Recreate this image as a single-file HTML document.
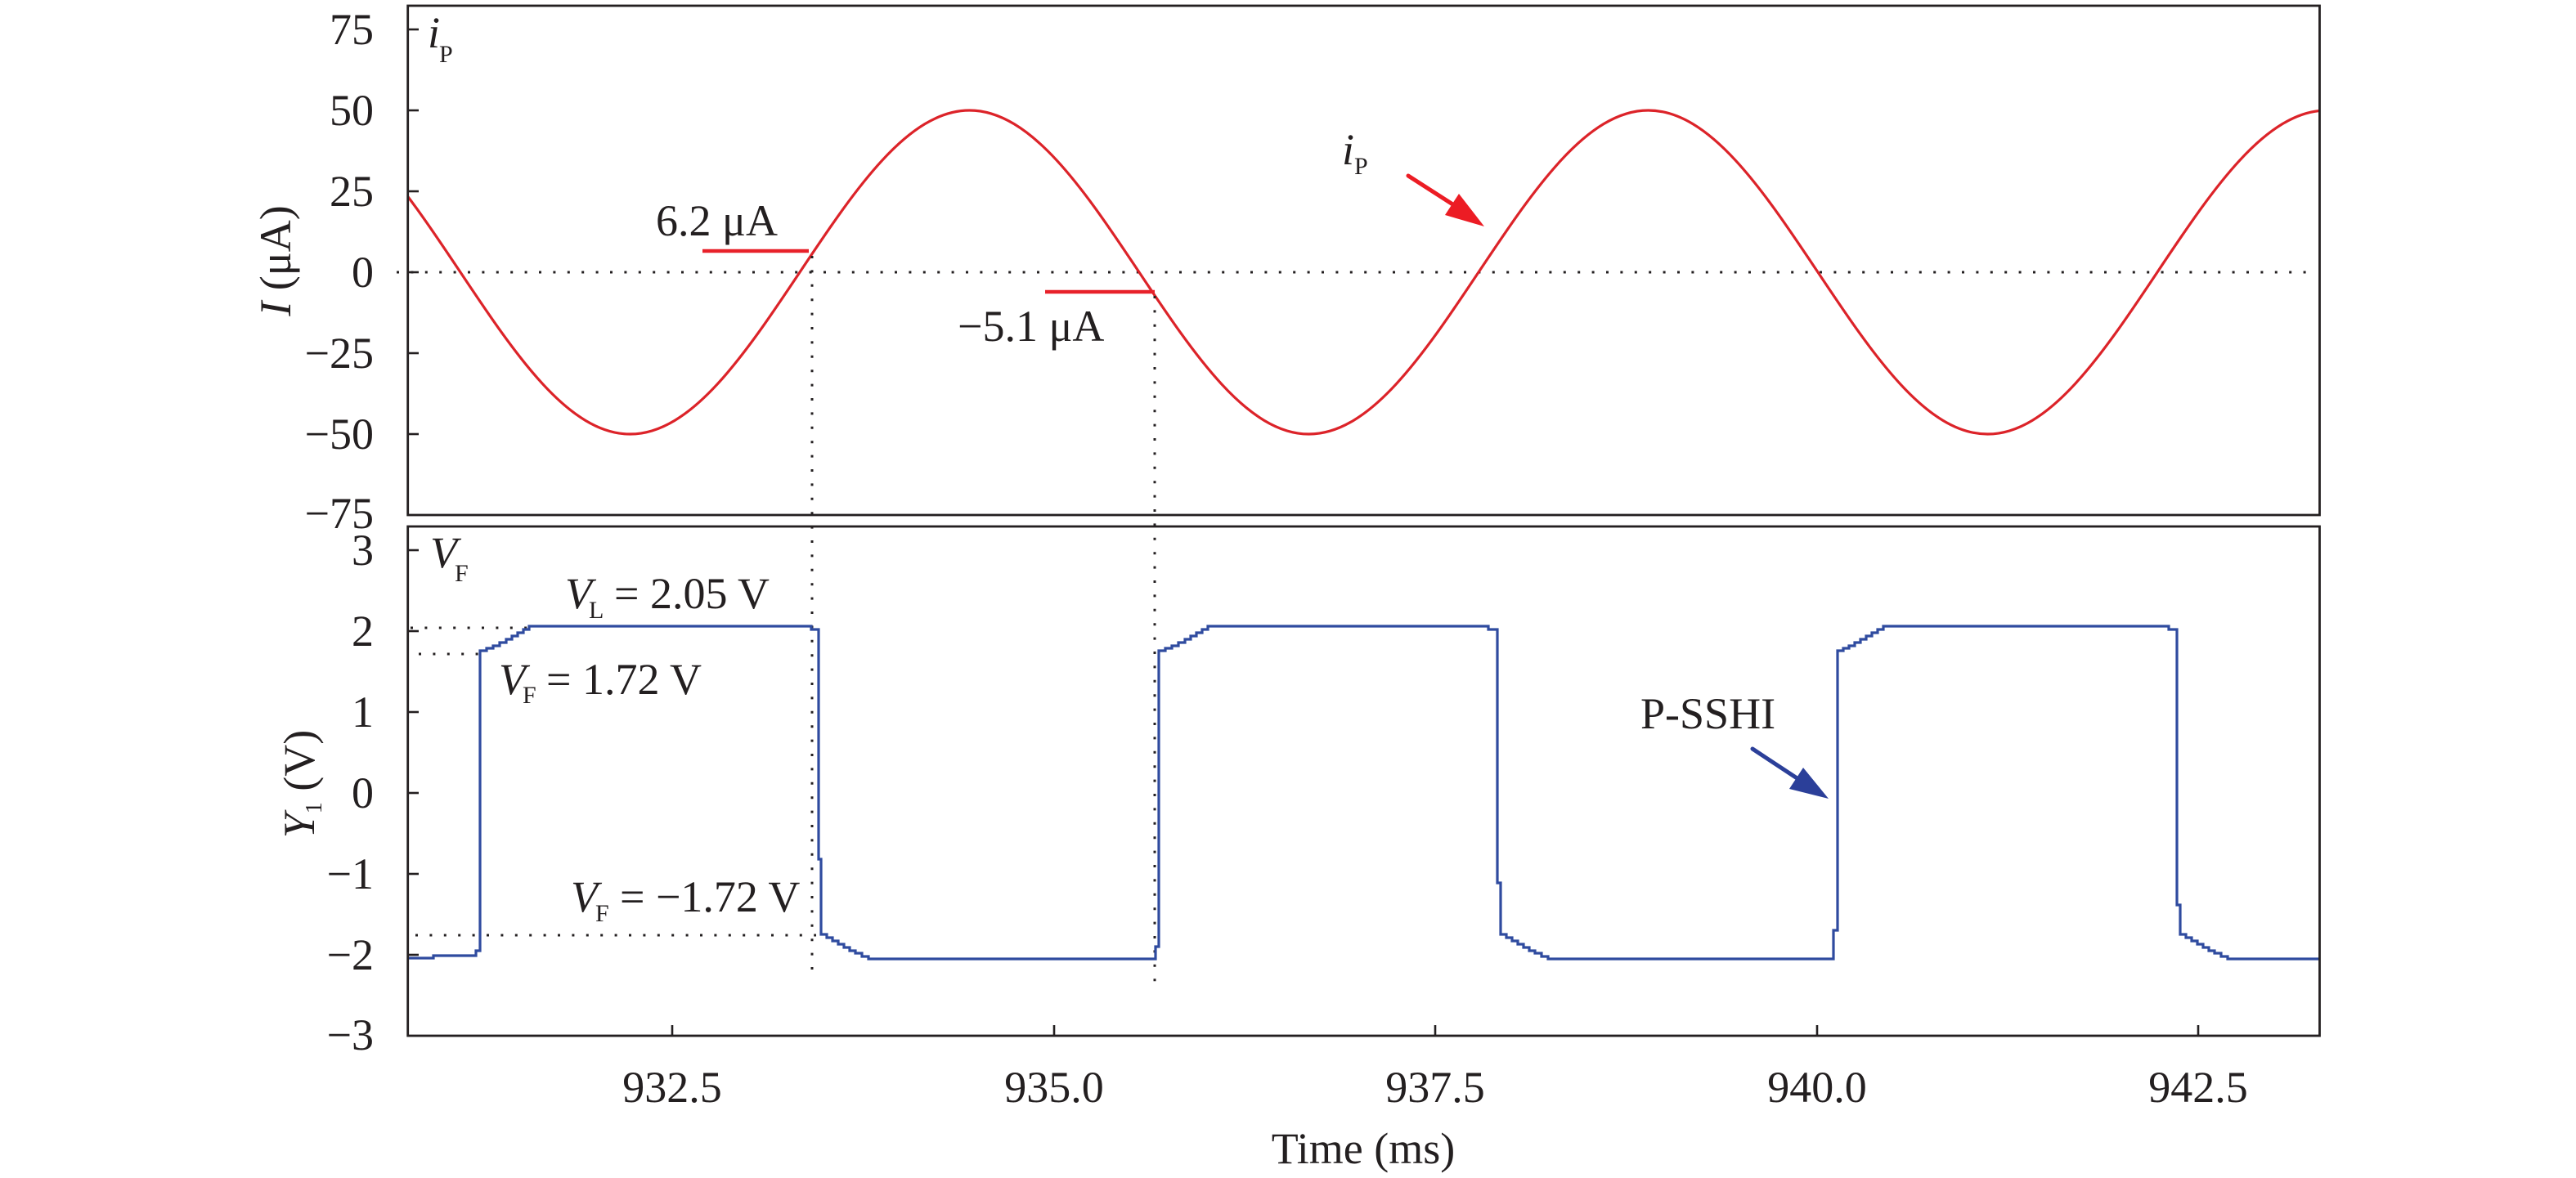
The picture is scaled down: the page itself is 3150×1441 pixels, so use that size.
<!DOCTYPE html>
<html>
<head>
<meta charset="utf-8">
<style>
html,body{margin:0;padding:0;background:#ffffff;}
svg{display:block;}
</style>
</head>
<body>
<svg width="3150" height="1441" viewBox="0 0 3150 1441" xmlns="http://www.w3.org/2000/svg" font-family="'Liberation Serif', 'Times New Roman', serif">
  <rect x="0" y="0" width="3150" height="1441" fill="#ffffff"/>
  <defs>
    <clipPath id="clipTop"><rect x="499" y="8" width="2337" height="621"/></clipPath>
    <clipPath id="clipBot"><rect x="499" y="645" width="2337" height="621"/></clipPath>
  </defs>

  <!-- ===== TOP PANEL ===== -->
  <!-- zero dotted line -->
  <line x1="485" y1="333" x2="2834" y2="333" stroke="#231f20" stroke-width="3" stroke-dasharray="3 14.4"/>

  <!-- ticks -->
  <g stroke="#231f20" stroke-width="2.6">
    <line x1="498" y1="36" x2="512" y2="36"/>
    <line x1="498" y1="135" x2="512" y2="135"/>
    <line x1="498" y1="234" x2="512" y2="234"/>
    <line x1="498" y1="333" x2="512" y2="333"/>
    <line x1="498" y1="432" x2="512" y2="432"/>
    <line x1="498" y1="531" x2="512" y2="531"/>
  </g>

  <!-- sine current -->
  <path clip-path="url(#clipTop)" fill="none" stroke="#dc2329" stroke-width="3.2"
    d="M355.5 135
       c75.09,0 139.83,96.57 207.5,198
       c67.67,101.43 132.41,198 207.5,198
       c75.09,0 139.83,-96.57 207.5,-198
       c67.67,-101.43 132.41,-198 207.5,-198
       c75.09,0 139.83,96.57 207.5,198
       c67.67,101.43 132.41,198 207.5,198
       c75.09,0 139.83,-96.57 207.5,-198
       c67.67,-101.43 132.41,-198 207.5,-198
       c75.09,0 139.83,96.57 207.5,198
       c67.67,101.43 132.41,198 207.5,198
       c75.09,0 139.83,-96.57 207.5,-198
       c67.67,-101.43 132.41,-198 207.5,-198"/>

  <!-- red marker lines -->
  <line x1="859" y1="307" x2="989" y2="307" stroke="#e8212a" stroke-width="4.5"/>
  <line x1="1278" y1="357" x2="1412" y2="357" stroke="#e8212a" stroke-width="4.5"/>

  <!-- vertical dotted lines -->
  <line x1="993" y1="313" x2="993" y2="1191" stroke="#231f20" stroke-width="3" stroke-dasharray="3 14.4"/>
  <line x1="1412" y1="362" x2="1412" y2="1214" stroke="#231f20" stroke-width="3" stroke-dasharray="3 14.4"/>

  <!-- red arrow -->
  <line x1="1722" y1="215" x2="1778" y2="251" stroke="#ec1c24" stroke-width="5" stroke-linecap="round"/>
  <polygon points="1815,277 1767,263 1784,237" fill="#ec1c24"/>

  <!-- top panel frame -->
  <rect x="498.7" y="7" width="2337.8" height="623" fill="none" stroke="#231f20" stroke-width="2.8"/>

  <!-- ===== BOTTOM PANEL ===== -->
  <!-- horizontal dotted guide lines -->
  <line x1="502" y1="768" x2="645" y2="768" stroke="#231f20" stroke-width="3" stroke-dasharray="3 14.4"/>
  <line x1="512" y1="800" x2="585" y2="800" stroke="#231f20" stroke-width="3" stroke-dasharray="3 14.4"/>
  <line x1="508" y1="1144" x2="998" y2="1144" stroke="#231f20" stroke-width="3" stroke-dasharray="3 14.4"/>

  <!-- ticks -->
  <g stroke="#231f20" stroke-width="2.6">
    <line x1="498" y1="673" x2="512" y2="673"/>
    <line x1="498" y1="772" x2="512" y2="772"/>
    <line x1="498" y1="871" x2="512" y2="871"/>
    <line x1="498" y1="970" x2="512" y2="970"/>
    <line x1="498" y1="1069" x2="512" y2="1069"/>
    <line x1="498" y1="1168" x2="512" y2="1168"/>
    <line x1="822" y1="1267" x2="822" y2="1254"/>
    <line x1="1289" y1="1267" x2="1289" y2="1254"/>
    <line x1="1755" y1="1267" x2="1755" y2="1254"/>
    <line x1="2222" y1="1267" x2="2222" y2="1254"/>
    <line x1="2688" y1="1267" x2="2688" y2="1254"/>
  </g>

  <!-- square wave -->
  <path clip-path="url(#clipBot)" fill="none" stroke="#2f4b9f" stroke-width="3.2" stroke-linejoin="miter"
    d="M498 1172 H530 V1169 H582 V1163 H587 V796
       h8 v-3 h8 v-3 h8 v-4 h8 v-4 h7 v-4 h7 v-4 h7 v-4 h7 v-4
       H992 V770 H1001 V1051 H1004 V1143
       h7 v4 h7 v4 h7 v4 h7 v4 h7 v4 h7 v3 h8 v4 h8 v3
       H1413 V1158 H1417 V796
       h8 v-3 h8 v-3 h8 v-4 h8 v-4 h7 v-4 h7 v-4 h7 v-4 h7 v-4
       H1820 V770 H1831 V1080 H1835 V1143
       h7 v4 h7 v4 h7 v4 h7 v4 h7 v4 h7 v3 h8 v4 h8 v3
       H2242 V1138 H2247 V796
       h7 v-3 h7 v-3 h7 v-4 h7 v-4 h7 v-4 h7 v-4 h7 v-4 h7 v-4
       H2652 V770 H2662 V1107 H2666 V1143
       h7 v4 h7 v4 h7 v4 h7 v4 h7 v4 h7 v3 h8 v4 h8 v3
       H2840"/>

  <!-- blue arrow -->
  <line x1="2143" y1="916" x2="2199" y2="953" stroke="#2b3f99" stroke-width="5" stroke-linecap="round"/>
  <polygon points="2236,977 2188,965 2205,939" fill="#2b3f99"/>

  <!-- bottom panel frame -->
  <rect x="498.7" y="644" width="2337.8" height="623" fill="none" stroke="#231f20" stroke-width="2.8"/>

  <!-- ===== TEXT ===== -->
  <g fill="#231f20" font-size="54">
    <!-- top y tick labels -->
    <g text-anchor="end">
      <text x="457" y="54">75</text>
      <text x="457" y="153">50</text>
      <text x="457" y="252">25</text>
      <text x="457" y="351">0</text>
      <text x="457" y="450">−25</text>
      <text x="457" y="549">−50</text>
      <text x="457" y="646">−75</text>
    </g>
    <!-- bottom y tick labels -->
    <g text-anchor="end">
      <text x="457" y="691">3</text>
      <text x="457" y="790">2</text>
      <text x="457" y="889">1</text>
      <text x="457" y="988">0</text>
      <text x="457" y="1087">−1</text>
      <text x="457" y="1186">−2</text>
      <text x="457" y="1284">−3</text>
    </g>
    <!-- x tick labels -->
    <g text-anchor="middle">
      <text x="822" y="1348">932.5</text>
      <text x="1289" y="1348">935.0</text>
      <text x="1755" y="1348">937.5</text>
      <text x="2222" y="1348">940.0</text>
      <text x="2688" y="1348">942.5</text>
    </g>
    <!-- x axis title -->
    <text x="1667" y="1423" text-anchor="middle">Time (ms)</text>

    <!-- y axis titles -->
    <text transform="translate(355,319) rotate(-90)" text-anchor="middle"><tspan font-style="italic">I</tspan> (μA)</text>
    <text transform="translate(384,959) rotate(-90)" text-anchor="middle"><tspan font-style="italic">Y</tspan><tspan font-size="28" dy="9">1</tspan><tspan dy="-9"> (V)</tspan></text>

    <!-- top-left iP -->
    <text x="523" y="58" font-style="italic">i</text>
    <text x="537" y="76" font-size="30">P</text>

    <!-- iP annotation -->
    <text x="1641" y="201" font-style="italic">i</text>
    <text x="1656" y="213" font-size="30">P</text>

    <!-- current value labels -->
    <text x="802" y="288">6.2 μA</text>
    <text x="1171" y="417">−5.1 μA</text>

    <!-- top-left VF -->
    <text x="526" y="694" font-style="italic">V</text>
    <text x="556" y="711" font-size="30">F</text>

    <!-- VL = 2.05 V -->
    <text x="691" y="744" font-style="italic">V</text>
    <text x="720" y="756" font-size="30">L</text>
    <text x="751" y="744" xml:space="preserve">= 2.05 V</text>

    <!-- VF = 1.72 V -->
    <text x="610" y="849" font-style="italic">V</text>
    <text x="639" y="860" font-size="30">F</text>
    <text x="668" y="849" xml:space="preserve">= 1.72 V</text>

    <!-- VF = -1.72 V -->
    <text x="698" y="1115" font-style="italic">V</text>
    <text x="728" y="1127" font-size="30">F</text>
    <text x="758" y="1115" xml:space="preserve">= −1.72 V</text>

    <!-- P-SSHI -->
    <text x="2006" y="891">P-SSHI</text>
  </g>
</svg>
</body>
</html>
